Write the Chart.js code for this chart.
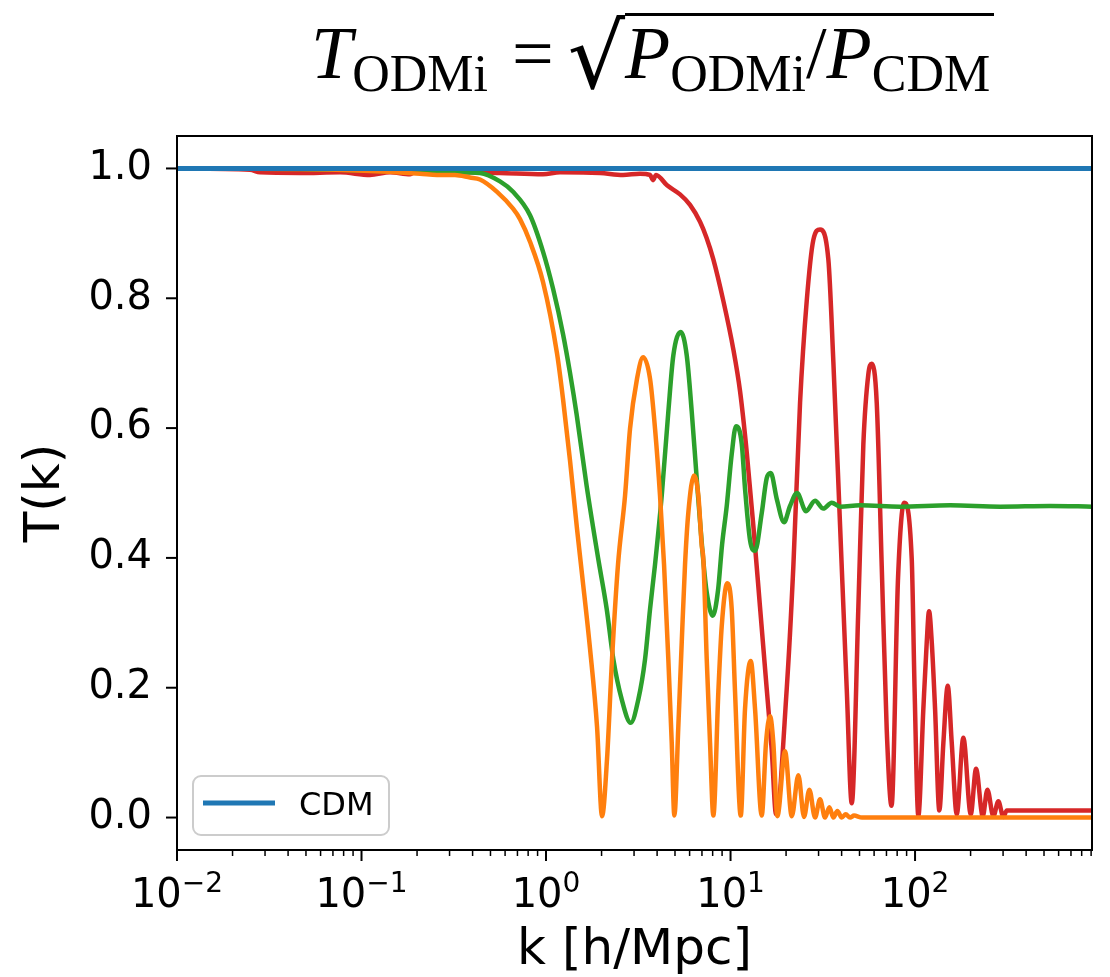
<!DOCTYPE html>
<html>
<head>
<meta charset="utf-8">
<script src="https://cdn.jsdelivr.net/npm/chart.js@4.4.1/dist/chart.umd.min.js"></script>
<style>
  body { margin: 0; background: #fff; }
  #wrap { position: relative; width: 1110px; height: 977px; overflow: hidden; }
  #chart { position: absolute; left: 0; top: 0; }
  #title {
    position: absolute; left: 311px; top: 12px;
    font-family: 'Liberation Serif', 'DejaVu Serif', serif;
    font-size: 74px; line-height: 1; white-space: nowrap; color: #000;
  }
  #title i { font-style: italic; }
  #title .sub { font-size: 52px; vertical-align: -13px; line-height: 1; }
  #title .eq { margin: 0 14px 0 24px; }
  #title .rad { font-family: 'DejaVu Serif', serif; font-size: 90px; vertical-align: -10px; }
  #title .ov { display: inline-block; border-top: 3px solid #000; padding-top: 0; padding-right: 4px; line-height: 1; }
</style>
</head>
<body>
<div id="wrap">
  <canvas id="chart" width="1110" height="977"></canvas>
  <div id="title"><i>T</i><span class="sub">ODMi</span><span class="eq">=</span><span class="rad">√</span><span class="ov"><i>P</i><span class="sub">ODMi</span>/<i>P</i><span class="sub">CDM</span></span></div>
</div>
<script>
// Axis ticks
const xTickValues = [0.01, 0.1, 1, 10, 100];
const xTickBase = '10';
const xTickExponents = ['−2', '−1', '0', '1', '2'];
const xMinorSteps = [2, 3, 4, 5, 6, 7, 8, 9];
const yTickValues = [0, 0.2, 0.4, 0.6, 0.8, 1.0];
const yTickLabels = ['0.0', '0.2', '0.4', '0.6', '0.8', '1.0'];

// CDM reference
const cdmK = [0.01, 910];
const cdmT = [1.0, 1.0];

// orange curve
const orangeK = [0.01, 0.0464, 0.2075, 0.2564, 0.321, 0.387, 0.4385, 0.5426, 0.6626, 0.7228, 0.819, 0.963,
  1.147, 1.236, 1.349, 1.472, 1.567, 1.732, 1.890, 2.012, 2.141, 2.279, 2.456, 2.681, 2.853, 3.113,
  3.356, 3.662, 3.898, 4.148, 4.361, 4.601, 4.801, 4.960, 5.214, 5.439, 5.668, 5.907, 6.342, 6.692, 6.982,
  7.123, 7.430, 7.743, 8.069, 8.587, 8.960, 9.609, 10.15, 10.58, 11.36, 11.98, 12.87, 13.58, 14.76, 15.57,
  16.37, 17.06, 17.94, 19.74, 21.47, 23.31, 25.02, 26.74, 28.71, 30.55, 32.52, 34.33, 36.08, 37.93, 40.07,
  42.12, 44.44, 46.71, 51.61, 910];
const orangeT = [1.0, 0.999, 0.992, 0.99, 0.99, 0.986, 0.983, 0.964, 0.938, 0.922, 0.887, 0.825,
  0.715, 0.645, 0.55, 0.445, 0.375, 0.26, 0.14, 0.002, 0.09, 0.244, 0.39, 0.496, 0.599, 0.676,
  0.709, 0.676, 0.599, 0.496, 0.39, 0.244, 0.115, 0.003, 0.141, 0.27, 0.39, 0.47, 0.527, 0.496, 0.419,
  0.398, 0.244, 0.115, 0.003, 0.193, 0.295, 0.361, 0.321, 0.193, 0.003, 0.167, 0.241, 0.167, 0.003, 0.115,
  0.156, 0.115, 0.002, 0.102, 0.002, 0.065, 0.001, 0.043, 0.0, 0.028, 0.0, 0.016, 0.0, 0.01, 0.0,
  0.005, 0.0, 0.003, 0.0, 0.0];

// green curve
const greenK = [0.01, 0.0464, 0.313, 0.4385, 0.563, 0.6626, 0.819, 0.963, 1.091, 1.236, 1.349, 1.467,
  1.662, 1.920, 2.133, 2.316, 2.572, 2.878, 3.164, 3.441, 3.662, 3.898, 4.238, 4.601, 4.898, 5.372, 5.789,
  6.163, 6.559, 7.123, 7.430, 8.008, 8.554, 8.995, 9.537, 10.15, 10.71, 11.50, 11.98, 12.76, 13.58, 14.76,
  15.71, 16.52, 17.80, 19.50, 21.01, 22.93, 25.66, 28.71, 31.84, 35.37, 39.23, 50.35, 82.99, 154.8, 288.9,
  539.1, 910];
const greenT = [1.0, 0.999, 0.994, 0.993, 0.98, 0.964, 0.928, 0.872, 0.815, 0.745, 0.685, 0.62,
  0.51, 0.398, 0.321, 0.244, 0.182, 0.146, 0.182, 0.244, 0.321, 0.39, 0.496, 0.625, 0.712, 0.748, 0.712,
  0.625, 0.522, 0.395, 0.347, 0.311, 0.35, 0.42, 0.48, 0.56, 0.603, 0.576, 0.507, 0.427, 0.411, 0.469,
  0.523, 0.531, 0.491, 0.455, 0.48, 0.5, 0.472, 0.488, 0.476, 0.485, 0.479, 0.481, 0.479, 0.481, 0.479,
  0.48, 0.479];

// red curve
const redK = [0.01, 0.02487, 0.02818, 0.0464, 0.0765, 0.1112, 0.1427, 0.1832, 0.2024, 0.2209, 0.387, 0.563,
  0.963, 1.191, 1.962, 2.614, 3.232, 3.662, 3.802, 3.947, 4.527, 5.325, 6.033, 6.834, 7.42, 8.069, 9.141, 10.36,
  11.26, 12.24, 13.29, 14.45, 15.71, 16.73, 17.65, 20.16, 21.90, 23.81, 25.88, 28.11, 30.55, 33.89, 36.08,
  39.23, 42.64, 45.39, 49.29, 52.46, 55.83, 58.25, 62.0, 65.99, 70.24, 74.57, 80.9, 87.2, 95.96, 99.38,
  104.2, 110.9, 115.7, 119.1, 123.2, 128.4, 135.4, 142.4, 150.4, 158.1, 168.3, 182.7, 200.4, 214.1, 232.8,
  246.6, 265.7, 282.8, 301.0, 314.1, 910];
const redT = [1.0, 0.998, 0.994, 0.993, 0.994, 0.99, 0.994, 0.991, 0.999, 0.993, 0.994, 0.993,
  0.991, 0.994, 0.993, 0.99, 0.992, 0.99, 0.982, 0.99, 0.974, 0.96, 0.944, 0.918, 0.893, 0.86, 0.796, 0.721,
  0.657, 0.563, 0.45, 0.324, 0.198, 0.103, 0.005, 0.198, 0.387, 0.639, 0.796, 0.89, 0.906, 0.86, 0.702,
  0.45, 0.198, 0.022, 0.324, 0.575, 0.683, 0.699, 0.639, 0.387, 0.135, 0.018, 0.37, 0.485, 0.398, 0.2,
  0.003, 0.167, 0.27, 0.318, 0.27, 0.167, 0.011, 0.115, 0.203, 0.115, 0.005, 0.123, 0.005, 0.075, 0.002,
  0.043, 0.002, 0.025, 0.001, 0.011, 0.011];

const toPoints = (ks, ts) => ks.map((k, i) => ({ x: k, y: ts[i] }));

Chart.defaults.font.family = "'DejaVu Sans', sans-serif";
Chart.defaults.color = '#000';

// matplotlib style frame, ticks, x labels and legend
const mplAxes = {
  id: 'mplAxes',
  afterDraw(chart) {
    const { ctx, chartArea: a, scales: { x, y } } = chart;
    const seg = (x1, y1, x2, y2) => { ctx.beginPath(); ctx.moveTo(x1, y1); ctx.lineTo(x2, y2); ctx.stroke(); };
    ctx.save();
    ctx.strokeStyle = '#000';
    ctx.lineWidth = 2;
    ctx.strokeRect(a.left, a.top, a.right - a.left, a.bottom - a.top);

    // x ticks
    xTickValues.forEach((v, i) => {
      const px = x.getPixelForValue(v);
      ctx.lineWidth = 2;
      seg(px, a.bottom, px, a.bottom + 11);
      ctx.fillStyle = '#000';
      ctx.textBaseline = 'alphabetic';
      ctx.textAlign = 'left';
      ctx.font = "40px 'DejaVu Sans'";
      const wBase = ctx.measureText(xTickBase).width;
      ctx.font = "28px 'DejaVu Sans'";
      const wExp = ctx.measureText(xTickExponents[i]).width;
      const start = px - (wBase + wExp) / 2;
      ctx.font = "40px 'DejaVu Sans'";
      ctx.fillText(xTickBase, start, a.bottom + 57);
      ctx.font = "28px 'DejaVu Sans'";
      ctx.fillText(xTickExponents[i], start + wBase, a.bottom + 42);
      xMinorSteps.forEach(m => {
        const mv = v * m;
        if (mv > x.max) return;
        const mx = x.getPixelForValue(mv);
        ctx.lineWidth = 1.5;
        seg(mx, a.bottom, mx, a.bottom + 6);
      });
    });

    // y ticks
    yTickValues.forEach(v => {
      const py = y.getPixelForValue(v);
      ctx.lineWidth = 2;
      seg(a.left - 11, py, a.left, py);
    });

    // legend
    const ds = chart.data.datasets[0];
    const lx = a.left + 16, ly = a.bottom - 74, lw = 196, lh = 59;
    ctx.beginPath();
    ctx.roundRect(lx, ly, lw, lh, 8);
    ctx.fillStyle = 'rgba(255,255,255,0.8)';
    ctx.fill();
    ctx.strokeStyle = '#cccccc';
    ctx.lineWidth = 2;
    ctx.stroke();
    ctx.strokeStyle = ds.borderColor;
    ctx.lineWidth = 5;
    seg(lx + 10, ly + 27, lx + 82, ly + 27);
    ctx.fillStyle = '#000';
    ctx.font = "32px 'DejaVu Sans'";
    ctx.textBaseline = 'alphabetic';
    ctx.fillText(ds.label, lx + 106, ly + 39);
    ctx.restore();
  }
};

new Chart(document.getElementById('chart'), {
  type: 'line',
  data: {
    datasets: [
      { label: 'CDM', data: toPoints(cdmK, cdmT), borderColor: '#1f77b4', borderWidth: 5 },
      { label: '', data: toPoints(orangeK, orangeT), borderColor: '#ff7f0e', borderWidth: 4.5 },
      { label: '', data: toPoints(greenK, greenT), borderColor: '#2ca02c', borderWidth: 4.5 },
      { label: '', data: toPoints(redK, redT), borderColor: '#d62728', borderWidth: 4.5 }
    ]
  },
  options: {
    responsive: false,
    animation: false,
    layout: { padding: { top: 136, right: 18, left: 0, bottom: 0 } },
    elements: {
      point: { radius: 0 },
      line: { cubicInterpolationMode: 'monotone', borderJoinStyle: 'round', fill: false }
    },
    plugins: { legend: { display: false }, tooltip: { enabled: false } },
    scales: {
      x: {
        type: 'logarithmic',
        min: 0.01,
        max: 910,
        grid: { display: false, drawTicks: false },
        border: { display: false },
        ticks: { display: false },
        afterBuildTicks: s => { s.ticks = xTickValues.map(v => ({ value: v })); },
        afterFit: s => { s.height = 127; },
        title: {
          display: true,
          text: 'k [h/Mpc]',
          font: { size: 50, lineHeight: 1 },
          padding: { top: 0, bottom: 1 }
        }
      },
      y: {
        type: 'linear',
        min: -0.05,
        max: 1.05,
        grid: { display: false, drawTicks: false },
        border: { display: false },
        afterBuildTicks: s => { s.ticks = yTickValues.map(v => ({ value: v })); },
        afterFit: s => { s.width = 177; },
        ticks: {
          padding: 25,
          font: { size: 40 },
          callback: (v, i) => yTickLabels[i]
        },
        title: {
          display: true,
          text: 'T(k)',
          font: { size: 50, lineHeight: 1 },
          padding: { top: 21, bottom: 0 }
        }
      }
    }
  },
  plugins: [mplAxes]
});
</script>
</body>
</html>
